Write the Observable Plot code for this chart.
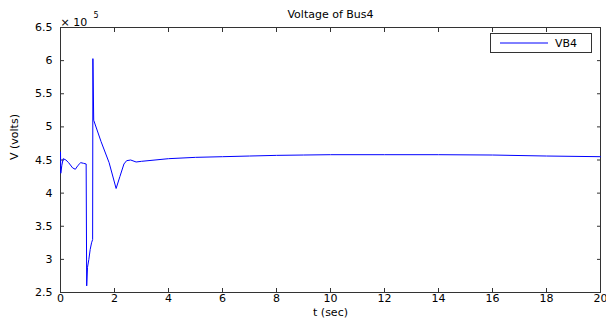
<!DOCTYPE html>
<html>
<head>
<meta charset="utf-8">
<script src="https://cdn.jsdelivr.net/npm/d3@7"></script>
<script src="https://cdn.jsdelivr.net/npm/@observablehq/plot@0.6"></script>
<style>
  html, body { margin: 0; padding: 0; background: #fff; }
  #wrap { position: relative; width: 606px; height: 322px; }
  #legend {
    position: absolute; left: 490px; top: 33px; width: 102px; height: 20px;
    border: 1px solid #333; background: #fff; box-sizing: border-box;
    font: 11px "DejaVu Sans", sans-serif; color: #000;
    display: flex; align-items: center;
  }
  #legend svg { margin-left: 9px; margin-right: 7px; }
</style>
</head>
<body>
<div id="wrap"></div>
<script>
// time (s)
const t = [0, 0.01, 0.05, 0.1, 0.2, 0.3, 0.45, 0.55, 0.65, 0.75, 0.85, 0.95,
  0.97, 1.0, 1.05, 1.1, 1.15, 1.19, 1.2, 1.23, 1.5, 1.8, 2.06, 2.2, 2.35, 2.45, 2.6, 2.8, 3.0,
  3.5, 4, 5, 6, 7, 8, 9, 10, 12, 14, 16, 18, 20];
// bus 4 voltage (V)
const vb4 = [462000, 430000, 442000, 452000, 450000, 446000, 438000, 436000, 442000, 446000, 445000, 444000,
  260000, 288000, 300000, 315000, 325000, 330000, 603000, 510000, 478000, 446000, 407000, 425000, 444000, 449000, 450000, 447000, 448000,
  450000, 452000, 454000, 455000, 456000, 457000, 457500, 458000, 458000, 458000, 457500, 456000, 455000];
const xTicks = [0, 2, 4, 6, 8, 10, 12, 14, 16, 18, 20];
const yTicks = [250000, 300000, 350000, 400000, 450000, 500000, 550000, 600000, 650000];
const seriesName = "VB4";
const title = "Voltage of Bus4";
const xLabel = "t (sec)";
const yLabel = "V (volts)";

const data = t.map((d, i) => ({t: d, v: vb4[i]}));
const font = "DejaVu Sans, sans-serif";
const axisColor = "#333";

const chart = Plot.plot({
  width: 606,
  height: 322,
  marginLeft: 60,
  marginRight: 6,
  marginTop: 27,
  marginBottom: 30,
  style: {fontFamily: font, fontSize: "11px", background: "#fff", color: "#000"},
  x: {domain: [0, 20]},
  y: {domain: [250000, 650000]},
  marks: [
    Plot.axisX(xTicks, {anchor: "bottom", tickSize: -4, tickPadding: 6, label: null, stroke: axisColor, tickFormat: d => String(d)}),
    Plot.axisX(xTicks, {anchor: "top", tickSize: -4, label: null, stroke: axisColor, tickFormat: () => ""}),
    Plot.axisY(yTicks, {anchor: "left", tickSize: -4, tickPadding: 12, label: null, stroke: axisColor, tickFormat: d => String(d / 1e5)}),
    Plot.axisY(yTicks, {anchor: "right", tickSize: -4, label: null, stroke: axisColor, tickFormat: () => ""}),
    Plot.frame({stroke: axisColor}),
    Plot.line(data, {x: "t", y: "v", stroke: "#0000ff", strokeWidth: 1}),
    Plot.text([title], {frameAnchor: "top", dy: -17, fontSize: 11}),
    Plot.text([xLabel], {frameAnchor: "bottom", dy: 23, fontSize: 11}),
    Plot.text([yLabel], {frameAnchor: "left", dx: -46, rotate: -90, fontSize: 11}),
    Plot.text(["\u00d7 10"], {frameAnchor: "top-left", dy: -9, textAnchor: "start", fontSize: 11}),
    Plot.text(["5"], {frameAnchor: "top-left", dx: 33, dy: -15, textAnchor: "start", fontSize: 8})
  ]
});

const wrap = document.getElementById("wrap");
wrap.appendChild(chart);
const legend = document.createElement("div");
legend.id = "legend";
legend.innerHTML = `<svg width="48" height="4"><line x1="0" x2="48" y1="2" y2="2" stroke="#0000ff" stroke-width="1"/></svg><span></span>`;
legend.querySelector("span").textContent = seriesName;
wrap.appendChild(legend);
</script>
</body>
</html>
